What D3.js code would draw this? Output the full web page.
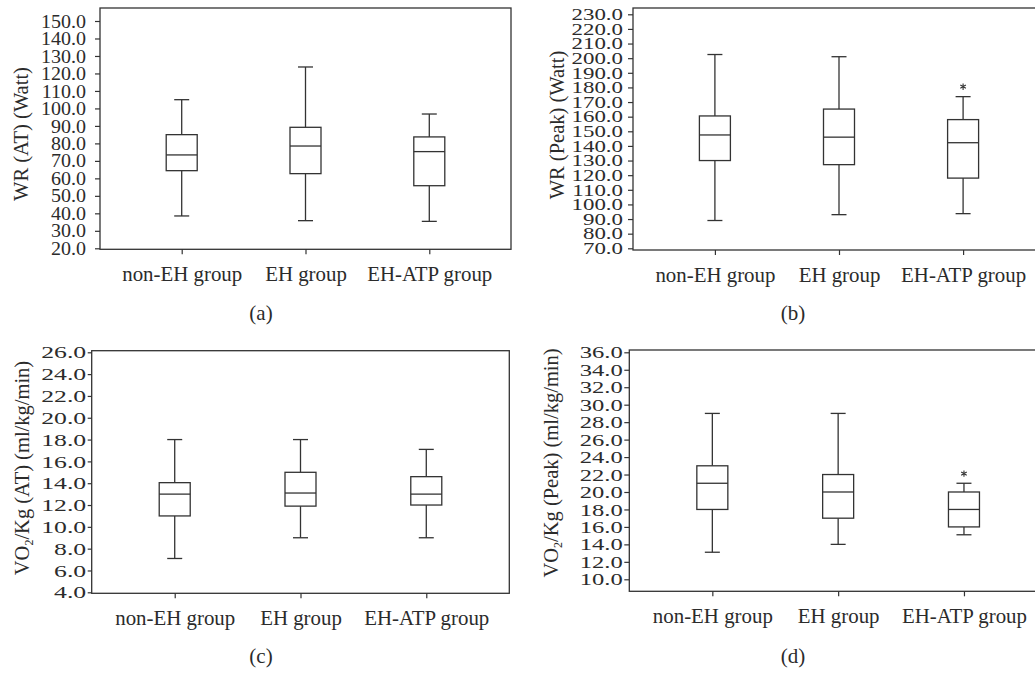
<!DOCTYPE html>
<html>
<head>
<meta charset="utf-8">
<script src="https://cdn.jsdelivr.net/npm/d3@7"></script>
<style>
  body { margin: 0; background: #fff; }
  svg { display: block; }
  text { font-family: "Liberation Serif", "Times New Roman", serif; fill: #2b2b2b; }
</style>
</head>
<body>
<svg id="chart" width="1035" height="674"></svg>
<script>
// --- data (five-number summaries: low whisker, Q1, median, Q3, high whisker) ---
const groups = ["non-EH group", "EH group", "EH-ATP group"];

const wrAT = [[38.5, 64.4, 73.4, 85, 105], [35.8, 62.7, 78.5, 89.2, 123.7], [35.4, 55.8, 75.3, 83.7, 96.8]];
const wrATTicks = [20, 30, 40, 50, 60, 70, 80, 90, 100, 110, 120, 130, 140, 150];

const wrPeak = [[89, 130, 147.5, 160.5, 202.5], [93, 127.2, 146, 165.2, 201], [93.7, 118, 142.2, 158, 173.7]];
const wrPeakOutliers = [{ group: "EH-ATP group", value: 180.5 }];
const wrPeakTicks = [70, 80, 90, 100, 110, 120, 130, 140, 150, 160, 170, 180, 190, 200, 210, 220, 230];

const vo2AT = [[7.1, 11, 13, 14.05, 18], [9, 11.9, 13.1, 15, 18], [9, 12, 13, 14.6, 17.1]];
const vo2ATTicks = [4, 6, 8, 10, 12, 14, 16, 18, 20, 22, 24, 26];

const vo2Peak = [[13.1, 18, 21, 23, 29], [14, 17, 20, 22, 29], [15.1, 16, 18, 20, 21]];
const vo2PeakOutliers = [{ group: "EH-ATP group", value: 22.1 }];
const vo2PeakTicks = [10, 12, 14, 16, 18, 20, 22, 24, 26, 28, 30, 32, 34, 36];

const ink = "#333";
const svg = d3.select("#chart");

// stretch text horizontally so the widest label hits a measured width
function fitWidth(sel, target) {
    const nodes = sel.nodes();
    const widths = nodes.map(n => n.getComputedTextLength());
    const s = target / d3.max(widths);
    nodes.forEach((n, i) => {
        n.setAttribute("textLength", widths[i] * s);
        n.setAttribute("lengthAdjust", "spacingAndGlyphs");
    });
}

function drawPanel(cfg) {
    const g = svg.append("g");
    const x = d3.scalePoint().domain(groups).range([cfg.left, cfg.right]).padding(0.66);
    const y = d3.scaleLinear().domain(cfg.domain).range(cfg.yRange);

    // frame
    g.append("rect")
        .attr("x", cfg.left).attr("y", cfg.top)
        .attr("width", cfg.right - cfg.left).attr("height", cfg.bottom - cfg.top)
        .attr("fill", "none").attr("stroke", ink).attr("stroke-width", 1.3);

    // y axis
    const ya = g.append("g")
        .attr("transform", `translate(${cfg.left},0)`)
        .call(d3.axisLeft(y).tickValues(cfg.ticks).tickFormat(d3.format(".1f"))
            .tickSize(cfg.tickSize).tickPadding(cfg.tickPad));
    ya.select(".domain").remove();
    ya.selectAll(".tick line").attr("stroke", ink).attr("stroke-width", 1.2);
    const yl = ya.selectAll(".tick text")
        .attr("font-family", null).attr("fill", ink)
        .style("font-size", cfg.tickFont + "px");
    fitWidth(yl, cfg.tickWidth);

    // x axis
    const xa = g.append("g")
        .attr("transform", `translate(0,${cfg.bottom})`)
        .call(d3.axisBottom(x).tickSize(5));
    xa.select(".domain").remove();
    xa.selectAll(".tick line").attr("stroke", ink).attr("stroke-width", 1.2);
    const xl = xa.selectAll(".tick text")
        .attr("font-family", null).attr("fill", ink)
        .attr("y", 32).attr("dy", 0)
        .style("font-size", "21.5px");
    fitWidth(xl, 125);

    // boxes
    const bw = 31, cw = 15;
    const box = g.selectAll("g.box").data(cfg.data.map((d, i) => ({ group: groups[i], v: d })))
        .join("g").attr("class", "box")
        .attr("fill", "none").attr("stroke", ink).attr("stroke-width", 1.3);
    box.append("line")
        .attr("x1", d => x(d.group)).attr("x2", d => x(d.group))
        .attr("y1", d => y(d.v[4])).attr("y2", d => y(d.v[3]));
    box.append("line")
        .attr("x1", d => x(d.group)).attr("x2", d => x(d.group))
        .attr("y1", d => y(d.v[1])).attr("y2", d => y(d.v[0]));
    box.append("line")
        .attr("x1", d => x(d.group) - cw / 2).attr("x2", d => x(d.group) + cw / 2)
        .attr("y1", d => y(d.v[4])).attr("y2", d => y(d.v[4]));
    box.append("line")
        .attr("x1", d => x(d.group) - cw / 2).attr("x2", d => x(d.group) + cw / 2)
        .attr("y1", d => y(d.v[0])).attr("y2", d => y(d.v[0]));
    box.append("rect")
        .attr("x", d => x(d.group) - bw / 2).attr("width", bw)
        .attr("y", d => y(d.v[3])).attr("height", d => y(d.v[1]) - y(d.v[3]))
        .attr("fill", "#fff");
    box.append("line")
        .attr("x1", d => x(d.group) - bw / 2).attr("x2", d => x(d.group) + bw / 2)
        .attr("y1", d => y(d.v[2])).attr("y2", d => y(d.v[2]));

    // outliers drawn as small asterisks
    const r = 3.2;
    const star = [90, 30, 150].map(a => {
        const t = a * Math.PI / 180;
        return `M${-r * Math.cos(t)},${-r * Math.sin(t)}L${r * Math.cos(t)},${r * Math.sin(t)}`;
    }).join("");
    g.selectAll("path.outlier").data(cfg.outliers || [])
        .join("path").attr("class", "outlier")
        .attr("transform", d => `translate(${x(d.group)},${y(d.value)})`)
        .attr("d", star)
        .attr("stroke", ink).attr("stroke-width", 1.1).attr("fill", "none");

    // y label
    const lab = g.append("text")
        .attr("transform", `translate(${cfg.labelX},${cfg.labelY}) rotate(-90)`)
        .attr("text-anchor", "middle")
        .attr("fill", ink)
        .style("font-size", "20.5px");
    cfg.label.forEach(part => {
        const t = lab.append("tspan").text(part.text);
        if (part.sub) t.style("font-size", "12px").attr("dy", 4);
        if (part.after) t.attr("dy", -4);
    });

    // panel caption
    g.append("text")
        .attr("x", cfg.capX).attr("y", cfg.capY)
        .attr("text-anchor", "middle").attr("fill", ink)
        .style("font-size", "21px")
        .text(cfg.caption);
}

drawPanel({
    data: wrAT, ticks: wrATTicks, domain: [20, 150], yRange: [248.3, 21],
    left: 100, right: 511, top: 8, bottom: 249.3,
    tickFont: 19, tickWidth: 45, tickSize: 5, tickPad: 9,
    label: [{ text: "WR (AT) (Watt)" }], labelX: 27.5, labelY: 134,
    caption: "(a)", capX: 261, capY: 320
});

drawPanel({
    data: wrPeak, outliers: wrPeakOutliers, ticks: wrPeakTicks, domain: [70, 230], yRange: [248.3, 14.3],
    left: 633, right: 1045, top: 8, bottom: 250,
    tickFont: 16.5, tickWidth: 51.5, tickSize: 5, tickPad: 5,
    label: [{ text: "WR (Peak) (Watt)" }], labelX: 563.5, labelY: 125,
    caption: "(b)", capX: 793, capY: 320
});

drawPanel({
    data: vo2AT, ticks: vo2ATTicks, domain: [4, 26], yRange: [592.3, 352.3],
    left: 91.7, right: 509.3, top: 350.7, bottom: 593.3,
    tickFont: 17.5, tickWidth: 45, tickSize: 4, tickPad: 1.5,
    label: [{ text: "VO" }, { text: "2", sub: true }, { text: "/Kg (AT) (ml/kg/min)", after: true }],
    labelX: 29, labelY: 468,
    caption: "(c)", capX: 261, capY: 663
});

drawPanel({
    data: vo2Peak, outliers: vo2PeakOutliers, ticks: vo2PeakTicks, domain: [10, 36], yRange: [579.3, 352.3],
    left: 629.3, right: 1047, top: 350, bottom: 591.3,
    tickFont: 17.5, tickWidth: 43, tickSize: 5, tickPad: 1.5,
    label: [{ text: "VO" }, { text: "2", sub: true }, { text: "/Kg (Peak) (ml/kg/min)", after: true }],
    labelX: 558, labelY: 463,
    caption: "(d)", capX: 793, capY: 663
});
</script>
</body>
</html>
